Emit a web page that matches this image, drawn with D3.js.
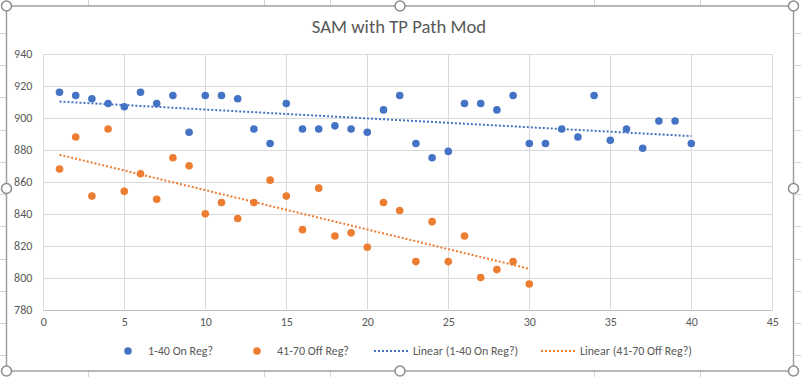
<!DOCTYPE html>
<html>
<head>
<meta charset="utf-8">
<script src="https://cdn.jsdelivr.net/npm/d3@7"></script>
<style>
  body { margin: 0; background: #fff; }
  svg text { font-family: Carlito, Calibri, Lato, "Liberation Sans", sans-serif; fill: #595959; }
</style>
</head>
<body>
<div id="chart"></div>
<script>
/* DATA */
const onRegX = d3.range(1, 41);
const onRegY = [916, 914, 912, 909, 907, 916, 909, 914, 891, 914,
                914, 912, 893, 884, 909, 893, 893, 895, 893, 891,
                905, 914, 884, 875, 879, 909, 909, 905, 914, 884,
                884, 893, 888, 914, 886, 893, 881, 898, 898, 884];
const offRegX = d3.range(1, 31);
const offRegY = [868, 888, 851, 893, 854, 865, 849, 875, 870, 840,
                 847, 837, 847, 861, 851, 830, 856, 826, 828, 819,
                 847, 842, 810, 835, 810, 826, 800, 805, 810, 796];
const xTicks = [0, 5, 10, 15, 20, 25, 30, 35, 40, 45];
const yTicks = [780, 800, 820, 840, 860, 880, 900, 920, 940];
const seriesNames = ["1-40 On Reg?", "41-70 Off Reg?"];
const title = "SAM with TP Path Mod";

/* CONSTANTS */
const width = 801, height = 377;
const margin = { top: 54, bottom: 67.5, left: 43.3, right: 28.7 };
const blue = "#4472C4", orange = "#ED7D31";

const svg = d3.select("#chart").append("svg")
  .attr("width", width)
  .attr("height", height);

// spreadsheet cells behind the chart
const cellLines = svg.append("g").attr("stroke", "#d4d4d4").attr("stroke-width", 1);
[33, 65, 97, 130, 162, 194, 226, 259, 291, 323, 355].forEach(y => {
  cellLines.append("line").attr("x1", 0).attr("x2", 6).attr("y1", y + 0.5).attr("y2", y + 0.5);
  cellLines.append("line").attr("x1", 795).attr("x2", 801).attr("y1", y + 0.5).attr("y2", y + 0.5);
});
[88, 264, 330, 594, 700].forEach(x => {
  cellLines.append("line").attr("x1", x + 0.5).attr("x2", x + 0.5).attr("y1", 0).attr("y2", 6);
  cellLines.append("line").attr("x1", x + 0.5).attr("x2", x + 0.5).attr("y1", 371).attr("y2", 377);
});

// chart frame
svg.append("rect")
  .attr("x", 6.5).attr("y", 6)
  .attr("width", 787).attr("height", 365)
  .attr("fill", "#fff")
  .attr("stroke", "#a0a0a0")
  .attr("stroke-width", 1.5);

/* SCALES */
const xScale = d3.scaleLinear()
  .domain([0, 45])
  .range([margin.left, width - margin.right]);
const yScale = d3.scaleLinear()
  .domain([780, 940])
  .range([height - margin.bottom, margin.top]);

// gridlines
svg.append("g")
  .attr("class", "grid")
  .selectAll("line.h")
  .data(yTicks)
  .join("line")
  .attr("x1", xScale(0)).attr("x2", xScale(45))
  .attr("y1", d => Math.round(yScale(d)) + 0.5)
  .attr("y2", d => Math.round(yScale(d)) + 0.5)
  .attr("stroke", d => d === 780 ? "#bfbfbf" : "#d9d9d9");

svg.append("g")
  .selectAll("line")
  .data(xTicks)
  .join("line")
  .attr("x1", d => Math.round(xScale(d)) + 0.5)
  .attr("x2", d => Math.round(xScale(d)) + 0.5)
  .attr("y1", yScale(940)).attr("y2", yScale(780))
  .attr("stroke", "#d9d9d9");

/* AXES */
const xAxis = d3.axisBottom(xScale).tickValues(xTicks).tickSize(0).tickPadding(8);
const yAxis = d3.axisLeft(yScale).tickValues(yTicks).tickSize(0).tickPadding(11);

svg.append("g")
  .attr("transform", `translate(0,${yScale(780)})`)
  .call(xAxis)
  .call(g => g.select(".domain").remove())
  .selectAll("text")
  .style("font-size", "12px");

svg.append("g")
  .attr("transform", `translate(${margin.left},0)`)
  .call(yAxis)
  .call(g => g.select(".domain").remove())
  .selectAll("text")
  .style("font-size", "12px");

// title
svg.append("text")
  .attr("x", 399)
  .attr("y", 33)
  .attr("text-anchor", "middle")
  .style("font-size", "18.7px")
  .text(title);

/* TRENDLINES (least squares from the data) */
function fit(xs, ys) {
  const mx = d3.mean(xs), my = d3.mean(ys);
  const b = d3.sum(xs, (x, i) => (x - mx) * (ys[i] - my)) / d3.sum(xs, x => (x - mx) ** 2);
  const a = my - b * mx;
  return x => a + b * x;
}
const trends = [
  { xs: onRegX, f: fit(onRegX, onRegY), color: blue },
  { xs: offRegX, f: fit(offRegX, offRegY), color: orange }
];
svg.append("g")
  .selectAll("line")
  .data(trends)
  .join("line")
  .attr("x1", d => xScale(d3.min(d.xs)))
  .attr("x2", d => xScale(d3.max(d.xs)))
  .attr("y1", d => yScale(d.f(d3.min(d.xs))))
  .attr("y2", d => yScale(d.f(d3.max(d.xs))))
  .attr("stroke", d => d.color)
  .attr("stroke-width", 2)
  .attr("stroke-dasharray", "2,2");

/* POINTS */
const r = 3.8;
svg.append("g")
  .selectAll("circle")
  .data(onRegX.map((x, i) => [x, onRegY[i]]))
  .join("circle")
  .attr("cx", d => xScale(d[0]))
  .attr("cy", d => yScale(d[1]))
  .attr("r", r)
  .attr("fill", blue);

svg.append("g")
  .selectAll("circle")
  .data(offRegX.map((x, i) => [x, offRegY[i]]))
  .join("circle")
  .attr("cx", d => xScale(d[0]))
  .attr("cy", d => yScale(d[1]))
  .attr("r", r)
  .attr("fill", orange);

/* LEGEND */
const legY = 351;
const legend = svg.append("g").style("font-size", "12px");
const legItems = [
  { type: "dot", color: blue, x: 128, label: seriesNames[0] },
  { type: "dot", color: orange, x: 257, label: seriesNames[1] },
  { type: "line", color: blue, x: 374, label: `Linear (${seriesNames[0]})` },
  { type: "line", color: orange, x: 541, label: `Linear (${seriesNames[1]})` }
];
legItems.forEach(it => {
  if (it.type === "dot") {
    legend.append("circle").attr("cx", it.x).attr("cy", legY).attr("r", r).attr("fill", it.color);
    legend.append("text").attr("x", it.x + 20).attr("y", legY).attr("dy", "0.35em").text(it.label);
  } else {
    legend.append("line")
      .attr("x1", it.x).attr("x2", it.x + 36)
      .attr("y1", legY).attr("y2", legY)
      .attr("stroke", it.color).attr("stroke-width", 2).attr("stroke-dasharray", "2,2");
    legend.append("text").attr("x", it.x + 39).attr("y", legY).attr("dy", "0.35em").text(it.label);
  }
});

/* SELECTION HANDLES */
const handles = [
  [6.5, 6], [400, 6], [793.5, 6],
  [6.5, 188.5], [793.5, 188.5],
  [6.5, 371], [400, 371], [793.5, 371]
];
svg.append("g")
  .selectAll("circle")
  .data(handles)
  .join("circle")
  .attr("cx", d => d[0])
  .attr("cy", d => d[1])
  .attr("r", 5)
  .attr("fill", "#fff")
  .attr("stroke", "#8c8c8c")
  .attr("stroke-width", 1.5);
</script>
</body>
</html>
